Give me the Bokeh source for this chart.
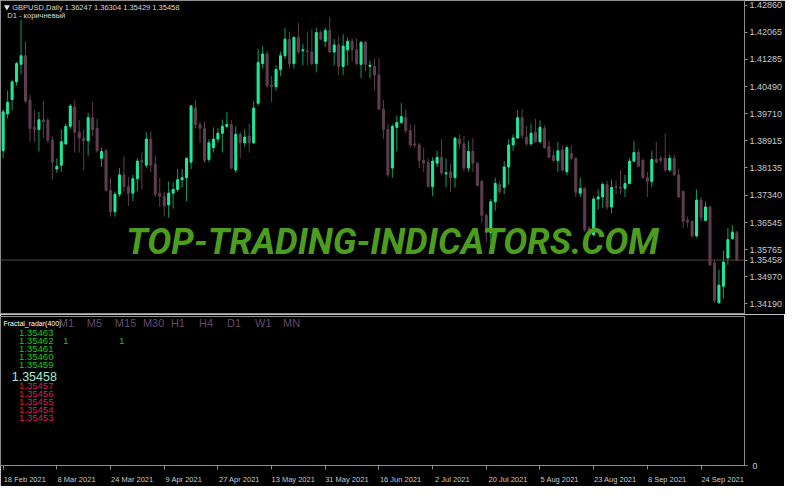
import pandas as pd
from bokeh.plotting import figure
from bokeh.models import Range1d, FixedTicker, NumeralTickFormatter, Span, Label, ColumnDataSource
from bokeh.layouts import column
from bokeh.embed import file_html
from bokeh.resources import INLINE
from bokeh.core.properties import value

# ---------------- data ----------------
symbol = "GBPUSD,Daily"
chart_note = "D1 - коричневый"
indicator_name = "Fractal_radar(400)"
watermark = "TOP-TRADING-INDICATORS.COM"

opens = [1.3863, 1.3970, 1.4012, 1.4063, 1.4114, 1.4139, 1.4010, 1.3931, 1.3925, 1.3953,
         1.3951, 1.3894, 1.3810, 1.3821, 1.3883, 1.3934, 1.3990, 1.3917, 1.3900, 1.3892,
         1.3959, 1.3928, 1.3841, 1.3863, 1.3748, 1.3686, 1.3737, 1.3793, 1.3759, 1.3740,
         1.3782, 1.3835, 1.3821, 1.3897, 1.3824, 1.3740, 1.3731, 1.3706, 1.3740, 1.3751,
         1.3779, 1.3785, 1.3830, 1.3987, 1.3939, 1.3928, 1.3838, 1.3872, 1.3897, 1.3914,
         1.3934, 1.3939, 1.3807, 1.3911, 1.3886, 1.3906, 1.3886, 1.4001, 1.4116, 1.4144,
         1.4054, 1.4049, 1.4099, 1.4139, 1.4187, 1.4116, 1.4192, 1.4153, 1.4153, 1.4150,
         1.4116, 1.4206, 1.4181, 1.4212, 1.4150, 1.4170, 1.4108, 1.4156, 1.4181, 1.4156,
         1.4114, 1.4178, 1.4108, 1.4108, 1.4083, 1.3984, 1.3925, 1.3813, 1.3931, 1.3945,
         1.3959, 1.3922, 1.3883, 1.3880, 1.3835, 1.3830, 1.3759, 1.3827, 1.3844, 1.3796,
         1.3802, 1.3785, 1.3897, 1.3883, 1.3813, 1.3861, 1.3827, 1.3774, 1.3675, 1.3625,
         1.3715, 1.3765, 1.3757, 1.3816, 1.3880, 1.3900, 1.3959, 1.3903, 1.3883, 1.3917,
         1.3889, 1.3928, 1.3875, 1.3849, 1.3835, 1.3866, 1.3802, 1.3855, 1.3841, 1.3740,
         1.3754, 1.3639, 1.3619, 1.3723, 1.3729, 1.3765, 1.3700, 1.3759, 1.3757, 1.3754,
         1.3768, 1.3833, 1.3858, 1.3835, 1.3785, 1.3774, 1.3838, 1.3841, 1.3841, 1.3807,
         1.3841, 1.3793, 1.3745, 1.3661, 1.3658, 1.3616, 1.3720, 1.3661, 1.3700, 1.3538,
         1.3422, 1.3470, 1.3552, 1.3608, 1.36247]
highs = [1.3984, 1.4038, 1.4069, 1.4122, 1.4243, 1.4181, 1.4026, 1.3981, 1.3976, 1.4007,
         1.3959, 1.3906, 1.3841, 1.3925, 1.3942, 1.3998, 1.4010, 1.3953, 1.3925, 1.3973,
         1.4004, 1.3956, 1.3872, 1.3869, 1.3785, 1.3745, 1.3813, 1.3847, 1.3787, 1.3793,
         1.3841, 1.3858, 1.3917, 1.3920, 1.3849, 1.3785, 1.3745, 1.3774, 1.3771, 1.3810,
         1.3810, 1.3844, 1.3996, 1.4010, 1.3948, 1.3948, 1.3897, 1.3931, 1.3928, 1.3953,
         1.3976, 1.3953, 1.3934, 1.3917, 1.3925, 1.3942, 1.4007, 1.4159, 1.4167, 1.4153,
         1.4080, 1.4111, 1.4150, 1.4220, 1.4209, 1.4195, 1.4234, 1.4173, 1.4209, 1.4215,
         1.4220, 1.4212, 1.4220, 1.4251, 1.4187, 1.4195, 1.4201, 1.4192, 1.4189, 1.4189,
         1.4181, 1.4181, 1.4125, 1.4130, 1.4133, 1.4010, 1.3942, 1.3939, 1.3965, 1.4001,
         1.3984, 1.3939, 1.3939, 1.3886, 1.3872, 1.3841, 1.3844, 1.3863, 1.3897, 1.3841,
         1.3824, 1.3903, 1.3911, 1.3906, 1.3892, 1.3900, 1.3830, 1.3779, 1.3681, 1.3723,
         1.3785, 1.3774, 1.3833, 1.3897, 1.3911, 1.3981, 1.3984, 1.3934, 1.3942, 1.3956,
         1.3951, 1.3937, 1.3892, 1.3863, 1.3889, 1.3878, 1.3878, 1.3878, 1.3844, 1.3785,
         1.3757, 1.3644, 1.3731, 1.3751, 1.3771, 1.3776, 1.3779, 1.3776, 1.3807, 1.3793,
         1.3841, 1.3892, 1.3869, 1.3841, 1.3802, 1.3863, 1.3889, 1.3849, 1.3914, 1.3852,
         1.3852, 1.3810, 1.3748, 1.3672, 1.3661, 1.3751, 1.3729, 1.3715, 1.3703, 1.3546,
         1.3518, 1.3574, 1.3639, 1.3647, 1.36304]
lows = [1.3841, 1.3956, 1.3981, 1.4052, 1.4085, 1.4001, 1.3889, 1.3889, 1.3861, 1.3900,
        1.3886, 1.3779, 1.3799, 1.3802, 1.3880, 1.3925, 1.3858, 1.3858, 1.3807, 1.3849,
        1.3906, 1.3858, 1.3816, 1.3745, 1.3672, 1.3672, 1.3729, 1.3745, 1.3703, 1.3717,
        1.3745, 1.3751, 1.3813, 1.3802, 1.3729, 1.3700, 1.3672, 1.3669, 1.3695, 1.3743,
        1.3757, 1.3717, 1.3810, 1.3928, 1.3886, 1.3827, 1.3830, 1.3858, 1.3886, 1.3858,
        1.3928, 1.3810, 1.3799, 1.3841, 1.3875, 1.3858, 1.3883, 1.3993, 1.4102, 1.4046,
        1.4004, 1.4038, 1.4080, 1.4130, 1.4102, 1.4102, 1.4144, 1.4111, 1.4111, 1.4111,
        1.4091, 1.4184, 1.4164, 1.4147, 1.4111, 1.4083, 1.4083, 1.4111, 1.4122, 1.4111,
        1.4074, 1.4094, 1.4074, 1.4038, 1.3981, 1.3897, 1.3787, 1.3785, 1.3861, 1.3942,
        1.3914, 1.3872, 1.3872, 1.3813, 1.3802, 1.3757, 1.3731, 1.3816, 1.3793, 1.3757,
        1.3743, 1.3757, 1.3869, 1.3802, 1.3802, 1.3802, 1.3759, 1.3653, 1.3597, 1.3597,
        1.3689, 1.3737, 1.3737, 1.3765, 1.3863, 1.3897, 1.3897, 1.3878, 1.3878, 1.3886,
        1.3886, 1.3869, 1.3841, 1.3830, 1.3802, 1.3802, 1.3793, 1.3835, 1.3729, 1.3729,
        1.3627, 1.3616, 1.3616, 1.3692, 1.3698, 1.3692, 1.3681, 1.3737, 1.3737, 1.3729,
        1.3765, 1.3830, 1.3816, 1.3782, 1.3729, 1.3757, 1.3827, 1.3827, 1.3802, 1.3802,
        1.3790, 1.3726, 1.3639, 1.3641, 1.3611, 1.3611, 1.3658, 1.3658, 1.3529, 1.3422,
        1.3419, 1.3434, 1.3532, 1.3605, 1.35429]
closes = [1.3976, 1.4004, 1.4063, 1.4116, 1.4139, 1.4007, 1.3928, 1.3925, 1.3953, 1.3948,
          1.3894, 1.3830, 1.3818, 1.3889, 1.3934, 1.3993, 1.3917, 1.3900, 1.3892, 1.3959,
          1.3925, 1.3863, 1.3861, 1.3748, 1.3686, 1.3737, 1.3793, 1.3759, 1.3740, 1.3782,
          1.3833, 1.3830, 1.3897, 1.3821, 1.3737, 1.3731, 1.3703, 1.3740, 1.3751, 1.3779,
          1.3785, 1.3841, 1.3993, 1.3939, 1.3928, 1.3835, 1.3886, 1.3897, 1.3914, 1.3934,
          1.3939, 1.3813, 1.3911, 1.3886, 1.3903, 1.3886, 1.3987, 1.4119, 1.4144, 1.4052,
          1.4049, 1.4099, 1.4139, 1.4187, 1.4116, 1.4192, 1.4150, 1.4156, 1.4150, 1.4116,
          1.4206, 1.4187, 1.4212, 1.4150, 1.4170, 1.4108, 1.4167, 1.4181, 1.4156, 1.4116,
          1.4178, 1.4114, 1.4111, 1.4083, 1.3984, 1.3925, 1.3793, 1.3934, 1.3945, 1.3962,
          1.3922, 1.3880, 1.3880, 1.3835, 1.3827, 1.3759, 1.3833, 1.3844, 1.3799, 1.3799,
          1.3785, 1.3900, 1.3883, 1.3813, 1.3861, 1.3827, 1.3762, 1.3675, 1.3625, 1.3715,
          1.3768, 1.3745, 1.3816, 1.3880, 1.3900, 1.3959, 1.3908, 1.3883, 1.3914, 1.3889,
          1.3931, 1.3872, 1.3844, 1.3835, 1.3863, 1.3807, 1.3872, 1.3841, 1.3743, 1.3754,
          1.3633, 1.3619, 1.3723, 1.3729, 1.3765, 1.3700, 1.3757, 1.3757, 1.3754, 1.3768,
          1.3833, 1.3858, 1.3818, 1.3785, 1.3774, 1.3838, 1.3830, 1.3835, 1.3807, 1.3841,
          1.3793, 1.3729, 1.3658, 1.3656, 1.3616, 1.3720, 1.3669, 1.3700, 1.3532, 1.3428,
          1.3473, 1.3540, 1.3605, 1.3627, 1.35458]

price_ticks = [1.42860, 1.42065, 1.41285, 1.40490, 1.39710, 1.38915,
               1.38135, 1.37340, 1.36545, 1.35765, 1.34970, 1.34190]
bid_price = 1.35458
date_labels = ["18 Feb 2021", "8 Mar 2021", "24 Mar 2021", "9 Apr 2021", "27 Apr 2021",
               "13 May 2021", "31 May 2021", "16 Jun 2021", "2 Jul 2021", "20 Jul 2021",
               "5 Aug 2021", "23 Aug 2021", "8 Sep 2021", "24 Sep 2021"]

timeframes = ["M1", "M5", "M15", "M30", "H1", "H4", "D1", "W1", "MN"]
tf_signals = ["1", "", "1", "", "", "", "", "", ""]
levels_above = [1.35463, 1.35462, 1.35461, 1.35460, 1.35459]
level_current = 1.35458
levels_below = [1.35457, 1.35456, 1.35455, 1.35454, 1.35453]

# ---------------- geometry helpers (reference picture pixels) ----------------
X0_REF, BAR_REF = 2.7, 4.565          # first bar position / bar spacing in ref px
P_TOP, P_PER_PX = 1.42992, 0.00028095  # price at ref y=0 / price per ref px


def bx(px):
    return (px - X0_REF) / BAR_REF


def py(px):
    return P_TOP - px * P_PER_PX


FRAME_W, MAIN_H = 744, 314
SUB_TOP, SUB_H, SUB_BOTTOM, RIGHT = 2, 149, 19, 40
REF_W = FRAME_W / 0.98
x_range = Range1d(bx(0), bx(REF_W))
PX_PER_BAR = FRAME_W / (x_range.end - x_range.start)

BG = "#000000"
FRAME = "#8e8e8e"
AXIS_TEXT = "#c8c8c8"
BULL, BULL_WICK = "#1ceb9c", "#0b9c66"
BEAR = "#5e3e50"
BID = "#56424f"
FONT = "Liberation Sans"

n = len(closes)
dates = pd.bdate_range("2021-02-18", periods=n)
date_names = [f"{d.day} {d.strftime('%b %Y')}" for d in dates]
tick_bars = [date_names.index(lbl) for lbl in date_labels]

bull = [c >= o for o, c in zip(opens, closes)]
src = ColumnDataSource(dict(
    x=list(range(n)),
    top=[max(o, c) for o, c in zip(opens, closes)],
    bottom=[min(o, c) for o, c in zip(opens, closes)],
    high=highs, low=lows,
    body=[BULL if b else BEAR for b in bull],
    wick=[BULL_WICK if b else BEAR for b in bull],
))

# ---------------- main price window ----------------
p = figure(frame_width=FRAME_W, frame_height=MAIN_H, x_range=x_range,
           y_range=Range1d(py(MAIN_H / 0.968), py(0)),
           x_axis_location=None, y_axis_location="right",
           toolbar_location=None, output_backend="svg",
           min_border_left=0, min_border_top=0, min_border_bottom=0, min_border_right=RIGHT,
           background_fill_color=BG, border_fill_color=BG, outline_line_color=FRAME)
p.xgrid.visible = False
p.ygrid.visible = False

p.segment(x0="x", y0="high", x1="x", y1="low", line_color="wick", line_width=1, source=src)
p.vbar(x="x", width=0.45, top="top", bottom="bottom", fill_color="body",
       line_color="body", line_width=1, source=src)

p.add_layout(Span(location=bid_price, dimension="width", line_color=BID, line_width=1))

ya = p.yaxis[0]
ya.ticker = FixedTicker(ticks=price_ticks + [bid_price])
ya.formatter = NumeralTickFormatter(format="0.00000")
ya.major_label_text_font = FONT
ya.major_label_text_font_size = "9px"
ya.major_label_text_color = AXIS_TEXT
ya.major_label_standoff = 2
ya.major_tick_out = 3
ya.major_tick_in = 0
ya.major_tick_line_color = FRAME
ya.minor_tick_line_color = None
ya.axis_line_color = FRAME

title = f"{symbol}  " + " ".join(f"{v:.5f}" for v in (opens[-1], highs[-1], lows[-1], closes[-1]))
p.scatter(x=[bx(6.5)], y=[py(6.8)], marker="inverted_triangle", size=6,
          fill_color="#e0e0e0", line_color=None)
p.add_layout(Label(x=bx(12), y=py(7.5), text=title, text_font=FONT, text_font_size="7.5px",
                   text_color="#d8d8d8", text_align="left", text_baseline="middle"))
p.add_layout(Label(x=bx(7), y=py(15.5), text=chart_note, text_font=FONT, text_font_size="7.5px",
                   text_color="#d8d8d8", text_align="left", text_baseline="middle"))
p.add_layout(Label(x=bx(400), y=py(249.5), text=watermark, text_font="Roboto",
                   text_font_size="36px", text_font_style="bold italic", text_color="#4c9c1e",
                   text_align="center", text_baseline="middle"))

# ---------------- indicator sub-window ----------------
SUB_REF = SUB_H / 0.968
p2 = figure(frame_width=FRAME_W, frame_height=SUB_H, x_range=x_range,
            y_range=Range1d(SUB_REF, 0),
            x_axis_location="below", y_axis_location="right",
            toolbar_location=None, output_backend="svg",
            min_border_left=0, min_border_top=SUB_TOP, min_border_bottom=SUB_BOTTOM,
            min_border_right=RIGHT,
            background_fill_color=BG, border_fill_color=BG, outline_line_color=FRAME)
p2.xgrid.visible = False
p2.ygrid.visible = False

# date axis: tick marks at the bars (minor), labels to the right of them (major, hidden tick)
label_pos = []
for b, lbl in zip(tick_bars, date_labels):
    shift_px = 1 + 0.5 * 0.5 * 7.5 * len(lbl)
    label_pos.append(round(b + shift_px / PX_PER_BAR, 3))
xa = p2.xaxis[0]
xa.ticker = FixedTicker(ticks=label_pos, minor_ticks=tick_bars)
xa.major_label_overrides = {pos: lbl for pos, lbl in zip(label_pos, date_labels)}
xa.major_tick_line_color = None
xa.major_tick_out = 0
xa.major_tick_in = 0
xa.minor_tick_out = 4
xa.minor_tick_in = 0
xa.minor_tick_line_color = FRAME
xa.axis_line_color = FRAME
xa.major_label_standoff = 5
xa.major_label_text_font = FONT
xa.major_label_text_font_size = "7.5px"
xa.major_label_text_color = AXIS_TEXT

sa = p2.yaxis[0]
sa.ticker = FixedTicker(ticks=[SUB_REF])
sa.major_label_overrides = {SUB_REF: "0"}
sa.major_label_text_font = FONT
sa.major_label_text_font_size = "9px"
sa.major_label_text_color = AXIS_TEXT
sa.major_tick_out = 3
sa.major_tick_in = 0
sa.major_tick_line_color = FRAME
sa.minor_tick_line_color = None
sa.axis_line_color = FRAME

SUB_Y0 = 326  # ref y of sub-window top
ROW = 8.2

p2.text(x=[bx(3)], y=[333 - SUB_Y0], text=[indicator_name], text_font=value(FONT),
        text_font_size=value("7px"), text_color="#ffffff", text_align="left",
        text_baseline="middle")

tf_x = [bx(59.5 + 28.6 * i) for i in range(len(timeframes))]
p2.text(x=tf_x, y=[333 - SUB_Y0] * len(timeframes), text=timeframes, text_font=value(FONT),
        text_font_size=value("11px"), text_color="#644868", text_align="left",
        text_baseline="middle")
sig = [(bx(59.5 + 28.6 * i + 7), s) for i, s in enumerate(tf_signals) if s]
p2.text(x=[s[0] for s in sig], y=[351.7 - SUB_Y0] * len(sig), text=[s[1] for s in sig],
        text_font=value(FONT), text_font_size=value("9px"), text_color="#16c816",
        text_align="center", text_baseline="middle")

p2.text(x=[bx(36.5)] * len(levels_above),
        y=[343.5 - SUB_Y0 + ROW * k for k in range(len(levels_above))],
        text=[f"{v:.5f}" for v in levels_above], text_font=value(FONT),
        text_font_size=value("9.5px"), text_color="#16c816", text_align="center",
        text_baseline="middle")
p2.text(x=[bx(34.5)], y=[388 - SUB_Y0], text=[f"{level_current:.5f}"], text_font=value(FONT),
        text_font_size=value("12.5px"), text_color="#a8e8d4", text_align="center",
        text_baseline="middle")
p2.text(x=[bx(36.5)] * len(levels_below),
        y=[397.8 - SUB_Y0 + ROW * k for k in range(len(levels_below))],
        text=[f"{v:.5f}" for v in levels_below], text_font=value(FONT),
        text_font_size=value("9.5px"), text_color="#d2234f", text_align="center",
        text_baseline="middle")

layout = column(p, p2, spacing=0)
open("out.html", "w").write(file_html(layout, INLINE))
